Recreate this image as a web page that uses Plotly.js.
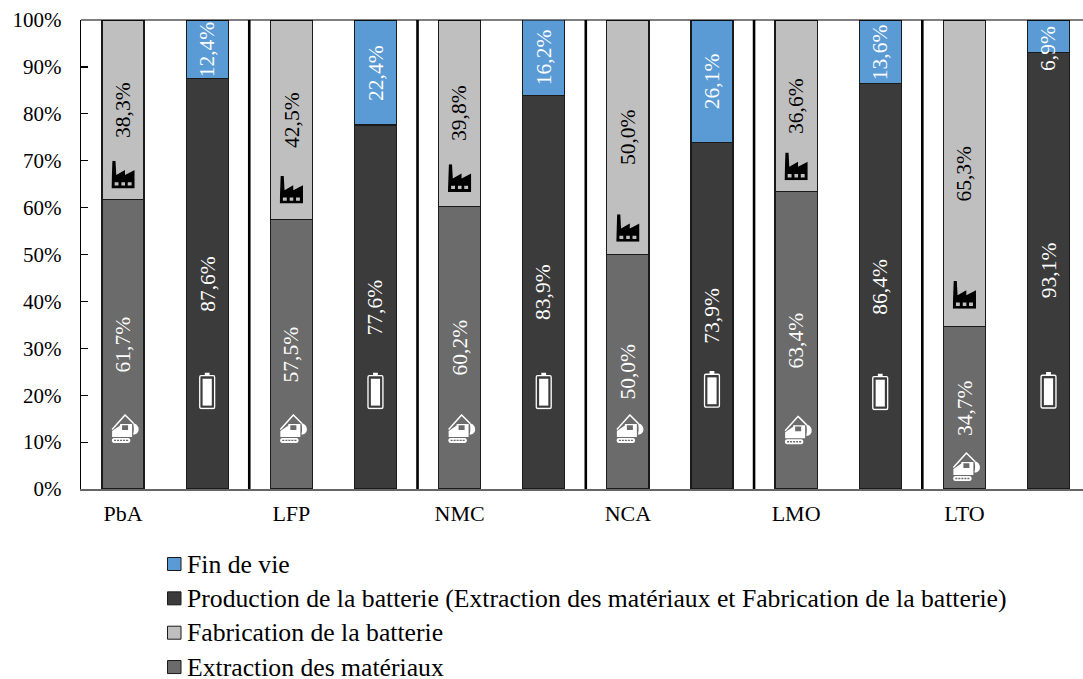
<!DOCTYPE html>
<html><head><meta charset="utf-8">
<script src="https://cdn.plot.ly/plotly-3.0.1.min.js"></script>
<style>html,body{margin:0;padding:0;background:#fff}#c{width:1083px;height:679px}</style>
</head><body><div id="c"></div>
<script>
const groups = ['PbA','LFP','NMC','NCA','LMO','LTO'];
const extraction = [61.7,57.5,60.2,50.0,63.4,34.7];
const fabrication = [38.3,42.5,39.8,50.0,36.6,65.3];
const production = [87.6,77.6,83.9,73.9,86.4,93.1];
const finDeVie = [12.4,22.4,16.2,26.1,13.6,6.9];
const factoryY = [67.05,63.8,66.3,55.65,68.8,41.4];
const excavatorY = [12.7,12.7,12.7,12.7,12.4,4.58];
const batteryY = [20.9,20.9,20.9,21.2,20.7,21.0];
const names = ['Extraction des matériaux','Fabrication de la batterie','Production de la batterie (Extraction des matériaux et Fabrication de la batterie)','Fin de vie'];
const colors = ['#6b6b6b','#bfbfbf','#3b3b3b','#5b9bd5'];
const textColors = ['#ffffff','#000000','#ffffff','#ffffff'];
const font = 'Liberation Serif';
const fmt = v => v.toFixed(1).replace('.',',')+'%';
const xFirst = groups.map((_,i)=>2*i), xSecond = groups.map((_,i)=>2*i+1);
function trace(idx,xs,vals){
  return {type:'bar',name:names[idx],x:xs,y:vals,width:0.5,showlegend:false,
    marker:{color:colors[idx],line:{color:'#1a1a1a',width:1.3}},hoverinfo:'name+y'};
}
const data=[trace(0,xFirst,extraction),trace(1,xFirst,fabrication),trace(2,xSecond,production),trace(3,xSecond,finDeVie)];
const annotations=[];
function labels(idx,xs,vals,bases,shifts){
  vals.forEach((v,i)=>annotations.push({xref:'x',yref:'y',x:xs[i],y:bases[i]+v/2+(shifts?shifts[i]:0),text:fmt(v),textangle:-90,showarrow:false,xanchor:'center',yanchor:'middle',font:{family:font,size:21.5,color:textColors[idx]}}));
}
const zeros=groups.map(()=>0);
const finLabelShift=[0,0,0,0,0,-2.6];
labels(0,xFirst,extraction,zeros);labels(1,xFirst,fabrication,extraction);labels(2,xSecond,production,zeros);labels(3,xSecond,finDeVie,production,finLabelShift);
const svg = s => 'data:image/svg+xml;charset=utf-8,'+encodeURIComponent(s);
const factory = svg('<svg xmlns="http://www.w3.org/2000/svg" width="96" height="108" viewBox="0 0 24 27"><path fill="#000" fill-rule="evenodd" d="M1 0H4.2L5 14L14 9V14L24 9V27H0ZM3.3 21V24.3H7.3V21ZM10.3 21V24.3H14V21ZM16.8 21V24.3H20.8V21Z"/></svg>');
const excavator = svg('<svg xmlns="http://www.w3.org/2000/svg" width="112" height="124" viewBox="0 0 28 31"><path fill="none" stroke="#fff" stroke-width="1.5" d="M1 15.5L14 1L22.5 9.5"/><path fill="#fff" fill-rule="evenodd" d="M1 23V17L9 11.5V10H21V23ZM11 11.2V16H17V11.2Z"/><path fill="#fff" d="M22 9C26.5 10 28.5 14 27.2 17.5C26.2 20 24 20.5 22 20.5C23 17 23 13 22 9Z"/><path fill="#fff" fill-rule="evenodd" d="M3 24H17C20 24 20 29 17 29H3C0 29 0 24 3 24ZM3 25.8V27.2H5V25.8ZM6 25.8V27.2H8V25.8ZM9 25.8V27.2H11V25.8ZM12 25.8V27.2H14V25.8ZM15 25.8V27.2H17V25.8Z"/></svg>');
const battery = svg('<svg xmlns="http://www.w3.org/2000/svg" width="72" height="148" viewBox="0 0 18 37"><path fill="#fff" d="M6.5 0H11.5V3H6.5Z"/><rect x="1.2" y="3.2" width="15.6" height="32.8" rx="1.5" fill="none" stroke="#fff" stroke-width="1.4"/><rect x="4.2" y="6.3" width="9.6" height="26.8" fill="#fff"/></svg>');
const images=[];
groups.forEach((_,i)=>{
  images.push({source:factory,xref:'x',yref:'y',x:2*i,y:factoryY[i],sizex:0.277,sizey:5.9,xanchor:'center',yanchor:'middle',sizing:'stretch',layer:'above'});
  images.push({source:excavator,xref:'x',yref:'y',x:2*i+0.024,y:excavatorY[i],sizex:0.333,sizey:6.6,xanchor:'center',yanchor:'middle',sizing:'stretch',layer:'above'});
  images.push({source:battery,xref:'x',yref:'y',x:2*i+1,y:batteryY[i],sizex:0.205,sizey:7.9,xanchor:'center',yanchor:'middle',sizing:'stretch',layer:'above'});
});
const shapes=[1.5,3.5,5.5,7.5,9.5].map(x=>({type:'line',xref:'x',yref:'paper',x0:x,x1:x,y0:0,y1:1,line:{color:'#000',width:2.6}}));
shapes.push({type:'line',xref:'paper',yref:'paper',x0:0,x1:1,y0:1,y1:1,line:{color:'#000',width:1.2}});
// legend, top to bottom: last series first
const W=1083-81,H=469,px=p=>(p-81)/W,py=p=>(489-p)/H;
[3,2,1,0].forEach((idx,row)=>{
  const cy=564+row*34.35;
  shapes.push({type:'rect',xref:'paper',yref:'paper',x0:px(167.5),x1:px(181),y0:py(cy-6.5),y1:py(cy+6.5),fillcolor:colors[idx],line:{color:'#1a1a1a',width:1}});
  annotations.push({xref:'paper',yref:'paper',x:px(187),y:py(cy),text:names[idx],showarrow:false,xanchor:'left',yanchor:'middle',xshift:-2,font:{family:font,size:25.7,color:'#000'}});
});
const layout={
  width:1083,height:679,paper_bgcolor:'#fff',plot_bgcolor:'#fff',barmode:'stack',bargap:0.5,
  margin:{l:81,r:0,t:20,b:190},font:{family:font,size:20,color:'#000'},showlegend:false,
  xaxis:{range:[-0.5,11.41],tickmode:'array',tickvals:xFirst,ticktext:groups,ticks:'',showgrid:false,zeroline:false,showline:true,linecolor:'#666',linewidth:1.5,tickfont:{family:font,size:22},ticklabelstandoff:4},
  yaxis:{range:[0,100],tickmode:'array',tickvals:[0,10,20,30,40,50,60,70,80,90,100],ticktext:[0,10,20,30,40,50,60,70,80,90,100].map(v=>v+'%'),ticks:'inside',ticklen:7,tickcolor:'#000',tickwidth:1.2,showgrid:false,zeroline:false,showline:true,linecolor:'#000',linewidth:1.2,tickfont:{family:font,size:21},ticklabelstandoff:14},
  images,shapes,annotations
};
Plotly.newPlot('c',data,layout,{displayModeBar:false,staticPlot:true});
</script></body></html>
